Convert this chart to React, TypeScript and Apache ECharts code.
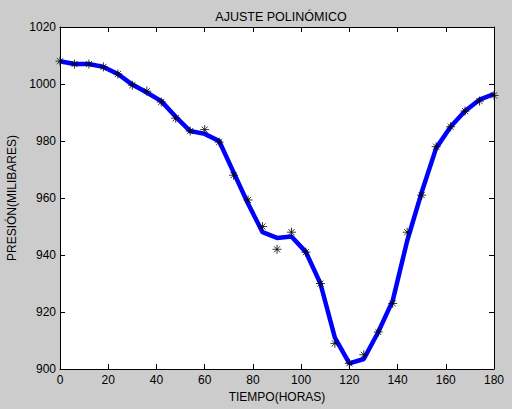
import React, { useEffect, useRef } from "react";
import * as echarts from "echarts";

const hours = [0, 6, 12, 18, 24, 30, 36, 42, 48, 54, 60, 66, 72, 78, 84, 90, 96, 102, 108, 114, 120, 126, 132, 138, 144, 150, 156, 162, 168, 174, 180];
const measured = [1008, 1007, 1007, 1006, 1003.5, 999.6, 997.5, 993.7, 988, 983.5, 984, 979.6, 968, 959.3, 950, 942, 948, 941, 930, 909, 902, 905, 913, 923, 948, 961, 978, 985, 990.5, 994, 996];
const fitted = [1008, 1007, 1007, 1006, 1003.5, 999.8, 997, 994, 988.5, 983.5, 982.5, 980, 969, 958, 948, 946, 946.5, 941, 930, 911, 902, 903.5, 913, 924, 945, 962, 977.5, 985, 990.5, 994.5, 996.5];
const xTicks = [0, 20, 40, 60, 80, 100, 120, 140, 160, 180];
const yTicks = [900, 920, 940, 960, 980, 1000, 1020];

const titleText = "AJUSTE POLINÓMICO";
const xName = "TIEMPO(HORAS)";
const yName = "PRESIÓN(MILIBARES)";

export default function App() {
  const ref = useRef<HTMLDivElement>(null);
  useEffect(() => {
    if (!ref.current) return;
    const chart = echarts.init(ref.current, undefined, { renderer: "svg" });
    const font = "Liberation Sans, Arial, sans-serif";
    const axisCommon = {
      axisLine: { show: true, onZero: false, lineStyle: { color: "#000", width: 1 } },
      axisTick: { show: true, inside: true, length: 5, lineStyle: { color: "#000" } },
      splitLine: { show: false },
    };
    chart.setOption({
      animation: false,
      backgroundColor: "#cccccc",
      title: {
        text: titleText,
        left: 276,
        top: 5,
        textAlign: "center",
        textStyle: { fontFamily: font, fontSize: 12.5, fontWeight: "normal", color: "#000" },
      },
      grid: {
        left: 60, right: 18, top: 27, bottom: 40,
        containLabel: false, outerBoundsMode: "none",
        show: true, backgroundColor: "#ffffff", borderWidth: 0,
      },
      xAxis: [
        {
          type: "value",
          min: 0,
          max: 180,
          interval: 20,
          position: "bottom",
          ...axisCommon,
          axisLabel: {
            color: "#000", fontFamily: font, fontSize: 12, margin: 5,
            formatter: (v: number) => (xTicks.includes(v) ? String(v) : ""),
          },
          name: xName,
          nameLocation: "middle",
          nameGap: 22,
          nameTextStyle: { color: "#000", fontFamily: font, fontSize: 12 },
        },
        {
          type: "value",
          min: 0,
          max: 180,
          interval: 20,
          position: "top",
          ...axisCommon,
          axisLabel: { show: false },
        },
      ],
      yAxis: [
        {
          type: "value",
          min: 900,
          max: 1020,
          interval: 20,
          position: "left",
          ...axisCommon,
          axisLabel: {
            color: "#000", fontFamily: font, fontSize: 12, margin: 4,
            formatter: (v: number) => (yTicks.includes(v) ? String(v) : ""),
          },
          name: yName,
          nameLocation: "middle",
          nameGap: 41,
          nameTextStyle: { color: "#000", fontFamily: font, fontSize: 12 },
        },
        {
          type: "value",
          min: 900,
          max: 1020,
          interval: 20,
          position: "right",
          ...axisCommon,
          axisLabel: { show: false },
        },
      ],
      series: [
        {
          type: "line",
          data: hours.map((h, i) => [h, fitted[i]]),
          showSymbol: false,
          lineStyle: { color: "#0000ff", width: 4.5 },
          z: 2,
        },
        {
          type: "scatter",
          data: hours.map((h, i) => [h, measured[i]]),
          symbol: "path://M0,5L10,5M5,0L5,10M1.6,1.6L8.4,8.4M8.4,1.6L1.6,8.4",
          symbolSize: 9,
          itemStyle: { color: "transparent", borderColor: "#000", borderWidth: 1 },
          z: 3,
        },
      ],
    });
    return () => chart.dispose();
  }, []);
  return <div ref={ref} style={{ position: "fixed", left: 0, top: 0, width: 512, height: 409 }} />;
}
